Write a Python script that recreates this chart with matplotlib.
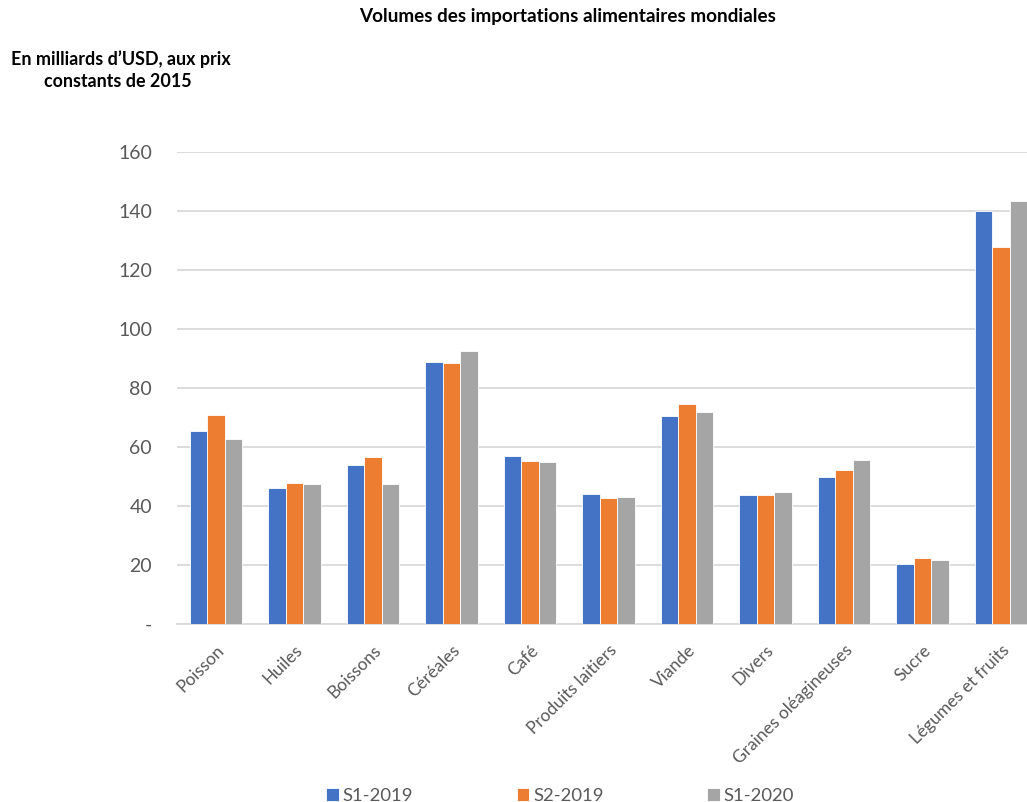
import numpy as np
import matplotlib
matplotlib.use("Agg")
import matplotlib.pyplot as plt

plt.rcParams['font.family'] = ['Lato', 'DejaVu Sans']

# data
categories = ["Poisson", "Huiles", "Boissons", "Céréales", "Café", "Produits laitiers",
              "Viande", "Divers", "Graines oléagineuses", "Sucre", "Légumes et fruits"]
s1_2019 = [65.5, 46.2, 53.9, 88.9, 56.9, 44.0, 70.6, 43.6, 49.9, 20.4, 140.0]
s2_2019 = [70.8, 47.8, 56.6, 88.4, 55.3, 42.7, 74.5, 43.6, 52.2, 22.2, 127.7]
s1_2020 = [62.7, 47.4, 47.4, 92.6, 54.8, 43.0, 71.7, 44.7, 55.6, 21.7, 143.4]
series_names = ["S1-2019", "S2-2019", "S1-2020"]
series_colors = ["#4472C4", "#ED7D31", "#A5A5A5"]
yticks = [0, 20, 40, 60, 80, 100, 120, 140, 160]
ytick_labels = ["-", "20", "40", "60", "80", "100", "120", "140", "160"]

W, H = 1027, 802
fig = plt.figure(figsize=(W / 100, H / 100), dpi=100)
ax = fig.add_axes([176.75 / W, 178 / H, 863.5 / W, 472.3 / H])

x = np.arange(len(categories))
bw = 0.222
for i, (vals, name, col) in enumerate(zip([s1_2019, s2_2019, s1_2020], series_names, series_colors)):
    ax.bar(x + (i - 1) * bw, vals, width=bw, color=col, edgecolor='white',
           linewidth=0.6, label=name, zorder=3)

ax.set_xlim(-0.5, len(categories) - 0.5)
ax.set_ylim(0, 160)
ax.set_yticks(yticks)
ax.set_yticklabels(ytick_labels, fontsize=14, color='#595959')
ax.yaxis.grid(True, color='#D9D9D9', linewidth=1.3, zorder=0)
ax.set_xticks(x)
ax.set_xticklabels(categories, rotation=45, ha='right', rotation_mode='anchor',
                   fontsize=12.5, color='#595959')
ax.tick_params(axis='both', length=0)
ax.tick_params(axis='y', pad=17.8)
ax.tick_params(axis='x', pad=13)
for s in ['top', 'right', 'left']:
    ax.spines[s].set_visible(False)
ax.spines['bottom'].set_color('#D9D9D9')
ax.spines['bottom'].set_linewidth(1.3)

fig.text(568 / W, 1 - 22 / H, "Volumes des importations alimentaires mondiales",
         ha='center', va='baseline', fontsize=13.6, fontweight='bold')
fig.text(121 / W, 1 - 65 / H, "En milliards d’USD, aux prix",
         ha='center', va='baseline', fontsize=12.9, fontweight='bold')
fig.text(118 / W, 1 - 87 / H, "constants de 2015",
         ha='center', va='baseline', fontsize=12.9, fontweight='bold')

leg = fig.legend(loc='center', bbox_to_anchor=(560 / W, 1 - 796 / H), ncol=3,
                 frameon=False, fontsize=13.3, handlelength=0.7, handleheight=0.7,
                 handletextpad=0.2, columnspacing=5.6, labelcolor='#595959',
                 borderpad=0)

fig.savefig("out.png", dpi=100)
